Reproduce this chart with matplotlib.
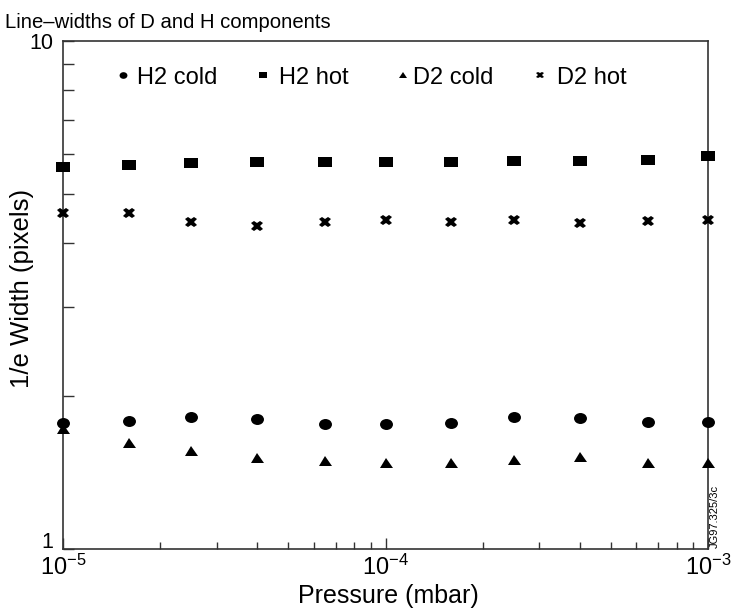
import matplotlib
matplotlib.use("Agg")
import matplotlib.pyplot as plt
from matplotlib.markers import MarkerStyle
from matplotlib.transforms import Affine2D, ScaledTranslation
from matplotlib.ticker import FixedLocator, NullFormatter, LogLocator
import numpy as np

plt.rcParams['font.family'] = ['Liberation Sans', 'DejaVu Sans']
plt.rcParams['mathtext.fontset'] = 'custom'
plt.rcParams['mathtext.rm'] = 'Liberation Sans'
plt.rcParams['mathtext.it'] = 'Liberation Sans'

# ---- data ----
pressure = [1e-5, 1.6e-5, 2.5e-5, 4e-5, 6.5e-5, 1e-4, 1.6e-4, 2.5e-4, 4e-4, 6.5e-4, 1e-3]
h2_cold = [1.773, 1.784, 1.817, 1.803, 1.760, 1.760, 1.773, 1.819, 1.811, 1.778, 1.778]
h2_hot = [5.65, 5.70, 5.75, 5.78, 5.78, 5.79, 5.77, 5.80, 5.80, 5.83, 5.94]
d2_cold = [1.721, 1.619, 1.561, 1.508, 1.492, 1.475, 1.479, 1.497, 1.519, 1.475, 1.475]
d2_hot = [4.58, 4.59, 4.40, 4.33, 4.41, 4.44, 4.41, 4.44, 4.39, 4.43, 4.44]
series_labels = ['H2 cold', 'H2 hot', 'D2 cold', 'D2 hot']
x_tick_vals = [1e-5, 1e-4, 1e-3]
x_tick_labels = [r'$10^{-5}$', r'$10^{-4}$', r'$10^{-3}$']
y_tick_vals = [1, 10]
y_tick_labels = ['1', '10']

W, H = 742, 608
fig = plt.figure(figsize=(W / 100, H / 100), dpi=100)
L, R, T, B = 63, 708, 41, 549
ax = fig.add_axes([L / W, 1 - B / H, (R - L) / W, (B - T) / H])

def mk(base, sx):
    return MarkerStyle(base, transform=Affine2D().scale(sx, 1.0))

styles = [
    (h2_cold, mk('o', 1.18), 7.9),
    (h2_hot, mk('s', 1.27), 7.9),
    (d2_cold, mk('^', 1.3), 7.2),
    (d2_hot, mk('X', 1.2), 7.6),
]
for vals, m, ms in styles:
    ax.plot(pressure, vals, linestyle='none', marker=m, markersize=ms,
            color='black', markeredgewidth=0, clip_on=False, zorder=3)

ax.set_xscale('log')
ax.set_yscale('log')
ax.set_xlim(1e-5, 1e-3)
ax.set_ylim(1, 10)

ax.xaxis.set_major_locator(FixedLocator(x_tick_vals))
ax.set_xticklabels(x_tick_labels)
ax.xaxis.set_minor_locator(LogLocator(base=10, subs=np.arange(2, 10)))
ax.xaxis.set_minor_formatter(NullFormatter())
ax.yaxis.set_major_locator(FixedLocator(y_tick_vals))
ax.set_yticklabels(y_tick_labels)
ax.yaxis.set_minor_locator(LogLocator(base=10, subs=np.arange(2, 10)))
ax.yaxis.set_minor_formatter(NullFormatter())

spc = '#333333'
for s in ax.spines.values():
    s.set_color(spc)
    s.set_linewidth(1.2)
ax.tick_params(axis='both', which='both', direction='in', color=spc, width=1.0,
               top=False, right=False)
ax.tick_params(axis='x', which='major', length=8, pad=4, labelsize=17)
ax.tick_params(axis='x', which='minor', length=5)
ax.tick_params(axis='y', which='both', length=8, pad=7, labelsize=15.5)

# raise the bottom "1" label slightly, as in the reference
for lab in ax.get_yticklabels():
    if lab.get_text() == '1':
        lab.set_transform(lab.get_transform() + ScaledTranslation(0, 9 / 100, fig.dpi_scale_trans))

ax.set_xlabel('Pressure (mbar)', fontsize=18)
ax.xaxis.set_label_coords(0.504, -0.068)
ax.set_ylabel('1/e Width (pixels)', fontsize=18.5)
ax.yaxis.set_label_coords(-0.045, 0.512)

# legend drawn in one row at the top of the axes
leg_mx = [0.093, 0.310, 0.527, 0.7395]
leg_tx = [0.1147, 0.3349, 0.5426, 0.766]
leg_y = 0.933
leg_sizes = [4.8, 4.8, 4.3, 4.8]
for (vals, m, ms), lab, mx, tx, lms in zip(styles, series_labels, leg_mx, leg_tx, leg_sizes):
    ax.plot([mx], [leg_y], transform=ax.transAxes, linestyle='none', marker=m,
            markersize=lms, color='black', markeredgewidth=0, clip_on=False)
    ax.text(tx, leg_y, lab, transform=ax.transAxes, fontsize=17, ha='left', va='center_baseline')

fig.text(5 / W, 1 - 28 / H, 'Line\u2013widths of D and H components', fontsize=14.6,
         ha='left', va='baseline')
fig.text(715 / W, 1 - 548 / H, 'JG97.325/3c', fontsize=8, rotation=90,
         ha='center', va='bottom')

fig.savefig('out.png', dpi=100)
